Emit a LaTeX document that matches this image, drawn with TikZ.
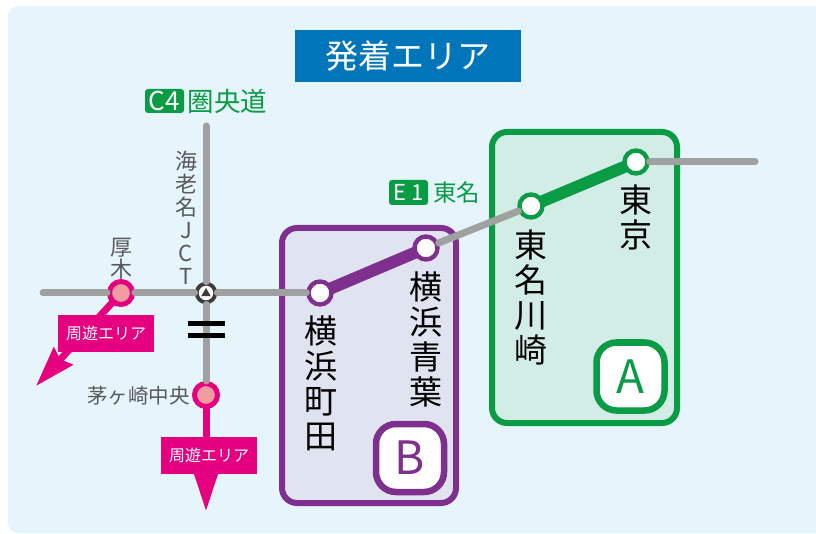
\documentclass[tikz,border=0pt]{standalone}
\usepackage{fontspec}
\usepackage{tikz}
\usetikzlibrary{arrows.meta}
\usetikzlibrary{shapes.geometric}
\setmainfont{Noto Sans CJK JP}
\definecolor{bgblue}{HTML}{E6F4FB}
\definecolor{titleblue}{HTML}{0075B9}
\definecolor{roadgrey}{HTML}{9FA0A0}
\definecolor{areagreen}{HTML}{0A9B45}
\definecolor{areapurple}{HTML}{7F2F8E}
\definecolor{tintgreen}{HTML}{D2ECE6}
\definecolor{tintpurple}{HTML}{E0E3F0}
\definecolor{loopink}{HTML}{E4007F}
\definecolor{stoppink}{HTML}{F19CA0}
\definecolor{labelgrey}{HTML}{58595B}
\definecolor{jctdark}{HTML}{3E3A39}
\tikzset{
  road/.style={line width=7pt, color=roadgrey, line cap=round},
  area/.style={draw=#1, line width=6pt, rounded corners=15pt, inner sep=0pt},
  badge/.style={draw=#1, text=#1, fill=white, line width=6.5pt, rounded corners=20pt, inner sep=0pt,
    minimum width=68pt, minimum height=68pt, font=\fontsize{46}{46}\selectfont},
  station/.style={circle, draw=#1, fill=white, line width=4.4pt, minimum size=23pt, inner sep=0pt},
  stop/.style={circle, draw=loopink, fill=stoppink, line width=5pt, minimum size=23pt, inner sep=0pt},
  stack/.style={align=center, inner sep=0pt, text=black, font=\fontsize{33}{35}\selectfont},
  greystack/.style={align=center, inner sep=0pt, text=labelgrey},
  shield/.style={fill=areagreen, text=white, rounded corners=3pt, inner sep=0pt, minimum height=24pt},
  loopbox/.style={fill=loopink, text=white, inner sep=0pt, minimum width=96pt, minimum height=37pt,
    font=\fontsize{16}{16}\selectfont},
  looparrow/.style={line width=7pt, color=loopink, shorten <=-3pt, -{Stealth[length=40pt, width=25pt, inset=4pt]}},
  section/.style={line width=12pt, color=#1, shorten <=-3.5pt, shorten >=-3.5pt},
  jctmark/.style={regular polygon, regular polygon sides=3, inner sep=0pt},
  bar/.style={fill=black, inner sep=0pt, minimum width=37pt, minimum height=4.7pt}
}
\begin{document}
\begin{tikzpicture}[x=1pt, y=-1pt]
  \useasboundingbox (0,0) rectangle (816,534);
  \fill[bgblue, rounded corners=10pt] (8,6) rectangle (840,533);
  \node[fill=titleblue, text=white, inner sep=0pt, minimum width=226pt, minimum height=52pt, font=\fontsize{33}{33}\selectfont] (title) at (408,56) {発着エリア};
  \node[shield, minimum width=39pt, font=\fontsize{26}{26}\selectfont] (c4) at (164.5,101) {C4};
  \node[text=areagreen, inner sep=0pt, font=\fontsize{26.5}{26.5}\selectfont] (ken) at (227.5,101) {圏央道};
  \node[shield, minimum width=39pt, minimum height=25pt, font=\fontsize{22}{22}\selectfont] (e1) at (408.5,192.5) {E 1};
  \node[text=areagreen, inner sep=0pt, font=\fontsize{23.5}{23.5}\selectfont] (tomei) at (456.5,192.5) {東名};
  \node[area=areagreen, fill=tintgreen, minimum width=185pt, minimum height=291pt] (areaa) at (584.5,277.5) {};
  \node[area=areapurple, fill=tintpurple, minimum width=174pt, minimum height=275pt] (areab) at (369,365.5) {};
  \node[badge=areagreen] (badgea) at (630.5,376.5) {A};
  \node[badge=areapurple] (badgeb) at (410,458) {B};

  \node[station=areapurple] (machida) at (320,293) {};
  \node[station=areapurple] (aoba) at (426,248) {};
  \node[station=areagreen] (kawasaki) at (531,206) {};
  \node[station=areagreen] (tokyo) at (636,162) {};
  \node[stop] (atsugi) at (121,293) {};
  \node[stop] (chigasaki) at (206,395) {};
  \node[circle, fill=jctdark, inner sep=0pt, minimum size=22.5pt] (ebina) at (206,293) {};
  \node[circle, fill=white, inner sep=0pt, minimum size=14.5pt] (ebinaring) at (206,293) {};
  \node[jctmark, fill=jctdark, minimum size=11pt] (ebinamark) at (206,293.5) {};
  \coordinate (roadwest) at (43,293);
  \coordinate (roadnorth) at (206,126);
  \coordinate (roadeast) at (755,162);
  \coordinate (atsugitip) at (36,386);
  \coordinate (chigasakitip) at (206,511);

  \path[road]
  (ebina) edge (atsugi)
          edge (roadnorth)
          edge (machida)
          edge (chigasaki)
  (atsugi) edge (roadwest)
  (aoba) edge (kawasaki)
  (tokyo) edge (roadeast)
  ;
  \draw[section=areapurple] (machida) -- (aoba);
  \draw[section=areagreen] (kawasaki) -- (tokyo);
  \draw[looparrow] (atsugi) -- (atsugitip);
  \draw[looparrow] (chigasaki) -- (chigasakitip);

  \node[bar] (barupper) at (206.5,323.3) {};
  \node[bar] (barlower) at (206.5,335.2) {};
  \node[loopbox] (loopa) at (106,333.5) {周遊エリア};
  \node[loopbox] (loopb) at (209,455.5) {周遊エリア};

  \node[stack] (labelmachida) at (321,383) {横\\浜\\町\\田};
  \node[stack] (labelaoba) at (426,339) {横\\浜\\青\\葉};
  \node[stack] (labelkawasaki) at (531,297) {東\\名\\川\\崎};
  \node[stack] (labeltokyo) at (636,217) {東\\京};
  \node[greystack, font=\fontsize{22}{23}\selectfont] (labelebina) at (186,217.5) {海\\老\\名\\J\\C\\T};
  \node[greystack, font=\fontsize{22}{22}\selectfont] (labelatsugi) at (121,258.5) {厚\\木};
  \node[greystack, anchor=east, font=\fontsize{20.5}{20.5}\selectfont] (labelchigasaki) at (190,396) {茅ヶ崎中央};
\end{tikzpicture}
\end{document}
